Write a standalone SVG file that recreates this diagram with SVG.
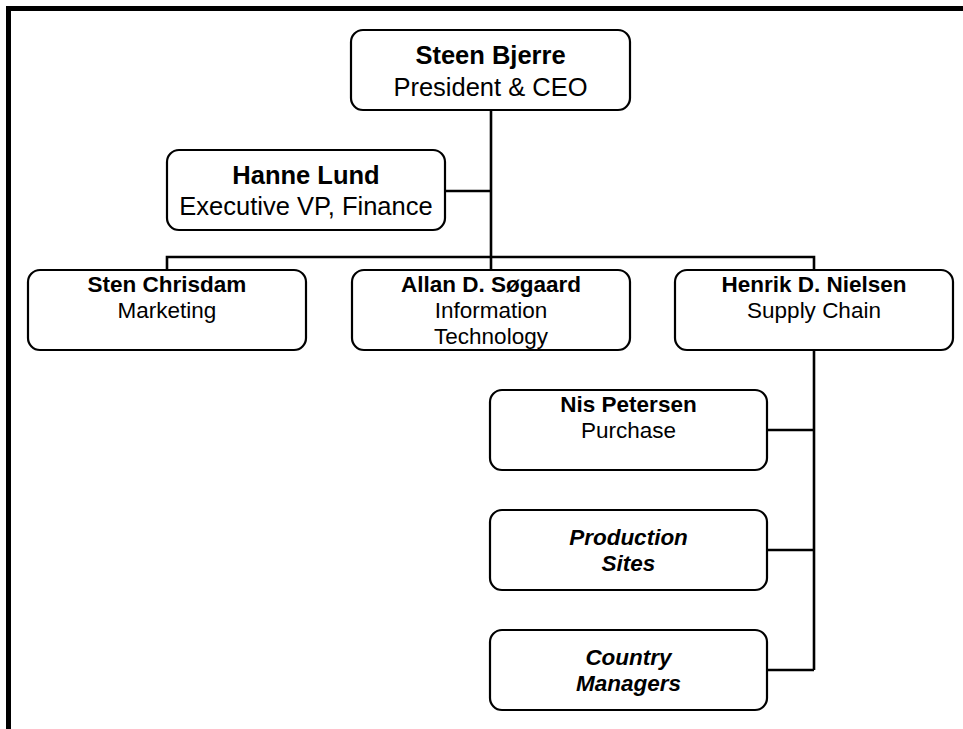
<svg xmlns="http://www.w3.org/2000/svg" width="963" height="729" viewBox="0 0 963 729">
<style>
.box{fill:#fff;stroke:#000;stroke-width:2.2}
.t{font-family:"Liberation Sans",Arial,sans-serif;fill:#000;text-anchor:middle}
.big{font-size:25.5px}
.sm{font-size:22.5px}
.b{font-weight:bold}
.bi{font-weight:bold;font-style:italic}
.conn{fill:none;stroke:#000;stroke-width:2.6}
</style>
<rect width="963" height="729" fill="#fff"/>
<path d="M8.5 729 V8.5 H963" fill="none" stroke="#000" stroke-width="5"/>
<g id="connectors">
<path class="conn" d="M491 110 V257"/>
<path class="conn" d="M445 191 H491"/>
<path class="conn" d="M167 270 V257 H814 V270"/>
<path class="conn" d="M491 257 V270"/>
<path class="conn" d="M814 350 V670"/>
<path class="conn" d="M767 430 H814"/>
<path class="conn" d="M767 550 H814"/>
<path class="conn" d="M767 670 H814"/>
</g>
<g id="ceo">
<rect class="box" x="351" y="30" width="279" height="80" rx="12"/>
<text class="t big b" x="490.5" y="64">Steen Bjerre</text>
<text class="t big" x="490.5" y="96">President &amp; CEO</text>
</g>
<g id="finance">
<rect class="box" x="167" y="150" width="278" height="80" rx="12"/>
<text class="t big b" x="306" y="184">Hanne Lund</text>
<text class="t big" x="306" y="215">Executive VP, Finance</text>
</g>
<g id="marketing">
<rect class="box" x="28" y="270" width="278" height="80" rx="12"/>
<text class="t sm b" x="167" y="292">Sten Chrisdam</text>
<text class="t sm" x="167" y="318">Marketing</text>
</g>
<g id="it">
<rect class="box" x="352" y="270" width="278" height="80" rx="12"/>
<text class="t sm b" x="491" y="292">Allan D. Søgaard</text>
<text class="t sm" x="491" y="318">Information</text>
<text class="t sm" x="491" y="344">Technology</text>
</g>
<g id="supply">
<rect class="box" x="675" y="270" width="278" height="80" rx="12"/>
<text class="t sm b" x="814" y="292">Henrik D. Nielsen</text>
<text class="t sm" x="814" y="318">Supply Chain</text>
</g>
<g id="purchase">
<rect class="box" x="490" y="390" width="277" height="80" rx="12"/>
<text class="t sm b" x="628.5" y="412">Nis Petersen</text>
<text class="t sm" x="628.5" y="438">Purchase</text>
</g>
<g id="production">
<rect class="box" x="490" y="510" width="277" height="80" rx="12"/>
<text class="t sm bi" x="628.5" y="545">Production</text>
<text class="t sm bi" x="628.5" y="571">Sites</text>
</g>
<g id="country">
<rect class="box" x="490" y="630" width="277" height="80" rx="12"/>
<text class="t sm bi" x="628.5" y="665">Country</text>
<text class="t sm bi" x="628.5" y="691">Managers</text>
</g>
</svg>
